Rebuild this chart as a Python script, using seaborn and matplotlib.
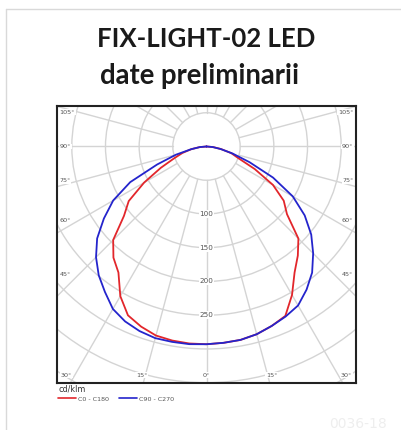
import numpy as np
import pandas as pd
import seaborn as sns
import matplotlib.pyplot as plt
from matplotlib.lines import Line2D
from matplotlib.patches import Circle

# luminous intensity in cd/klm, every 5 deg from nadir (0) to horizontal (90)
gamma = [0, 5, 10, 15, 20, 25, 30, 35, 40, 45, 50, 55, 60, 65, 70, 75, 80, 85, 90]
c0 = [293, 292, 291, 288, 283, 277, 254, 228, 211, 193, 156, 140, 114, 79, 50, 38, 22, 10, 0]
c180 = [293, 293, 292, 290, 284, 276, 256, 228, 215, 196, 160, 141, 107, 75, 51, 37, 23, 10, 0]
c90 = [293, 292, 291, 288, 283, 278, 272, 259, 244, 224, 203, 178, 148, 109, 68, 40, 21, 9, 0]
c270 = [293, 294, 294, 294, 291, 286, 278, 263, 249, 232, 212, 186, 160, 125, 78, 47, 23, 10, 0]

series_names = ["C0 - C180", "C90 - C270"]
series_colors = ["#e2262b", "#2424cc"]

ring_values = [50, 100, 150, 200, 250, 300, 350, 400, 450]
ring_labels = [100, 150, 200, 250]
side_angles = [105, 90, 75, 60, 45]
bottom_angles = [-30, -15, 0, 15, 30]


def half_to_xy(angles, values, side):
    a = np.radians(angles)
    v = np.asarray(values, dtype=float)
    return side * v * np.sin(a), -v * np.cos(a)


rows = []
for name, left, right in [(series_names[0], c180, c0), (series_names[1], c270, c90)]:
    xl, yl = half_to_xy(gamma, left, -1)
    xr, yr = half_to_xy(gamma, right, 1)
    xs = np.concatenate([xl[::-1], xr[1:]])
    ys = np.concatenate([yl[::-1], yr[1:]])
    for x, y in zip(xs, ys):
        rows.append({"x": x, "y": y, "series": name})
df = pd.DataFrame(rows)

sns.set_style("white")
plt.rcParams["font.family"] = ["DejaVu Sans"]

W, H = 401, 430
fig = plt.figure(figsize=(W / 100, H / 100), dpi=100)

# card outline (top and left edges visible)
fig.add_artist(Line2D([6 / W, 1], [1 - 9 / H, 1 - 9 / H], color="#d9d9d9", lw=1.0))
fig.add_artist(Line2D([6 / W, 6 / W], [1 - 9 / H, 0], color="#d9d9d9", lw=1.0))

fig.text(206.5 / W, 1 - 47 / H, "FIX-LIGHT-02 LED", ha="center", va="baseline",
         fontsize=18.5, fontweight="bold", family="Lato", color="#1a1a1a")
fig.text(200 / W, 1 - 84 / H, "date preliminarii", ha="center", va="baseline",
         fontsize=19.8, fontweight="bold", family="Lato", color="#1a1a1a")

ax = fig.add_axes([57 / W, 1 - 382.7 / H, 299 / W, 276.7 / H])
ax.set_xlim(-222, 222)
ax.set_ylim(-350, 60)

# polar grid
grid_c = "#d4d4d4"
for r in ring_values:
    ax.add_patch(Circle((0, 0), r, fill=False, ec=grid_c, lw=1.0, zorder=1))
for a in range(0, 360, 15):
    t = np.radians(a)
    ax.plot([50 * np.sin(t), 600 * np.sin(t)], [-50 * np.cos(t), -600 * np.cos(t)],
            color=grid_c, lw=1.0, zorder=1)

for r in ring_labels:
    ax.text(0, -r, str(r), ha="center", va="center", fontsize=5.2, color="#555555",
            zorder=2, bbox=dict(fc="white", ec="none", pad=0.6))

for a in side_angles:
    y = -190 / np.tan(np.radians(a))
    ax.text(-218, y, f"{a}°", ha="left", va="center", fontsize=4.6, color="#555555",
            zorder=2, bbox=dict(fc="white", ec="none", pad=0.3))
    ax.text(218, y, f"{a}°", ha="right", va="center", fontsize=4.6, color="#555555",
            zorder=2, bbox=dict(fc="white", ec="none", pad=0.3))
for a in bottom_angles:
    x = 360 * np.tan(np.radians(a))
    ax.text(x, -339, f"{abs(a)}°", ha="center", va="center", fontsize=4.6, color="#555555",
            zorder=2, bbox=dict(fc="white", ec="none", pad=0.3))

sns.lineplot(data=df, x="x", y="y", hue="series", palette=series_colors,
             sort=False, estimator=None, legend=False, lw=1.3, ax=ax, zorder=3)

ax.set_xticks([])
ax.set_yticks([])
ax.set_xlabel("")
ax.set_ylabel("")
for s in ax.spines.values():
    s.set_visible(True)
    s.set_color("#222222")
    s.set_linewidth(1.5)

handles = [Line2D([], [], color=c, lw=1.2) for c in series_colors]
leg = fig.legend(handles, series_names, title="cd/klm", loc="upper left",
                 bbox_to_anchor=(58 / W, 1 - 384 / H), ncol=2, frameon=False,
                 fontsize=4.6, title_fontsize=5.8, alignment="left",
                 handlelength=2.8, handletextpad=0.3, columnspacing=1.6,
                 borderpad=0, borderaxespad=0)
for t in leg.get_texts():
    t.set_color("#555555")
leg.get_title().set_color("#333333")

fig.text(358 / W, 1 - 428 / H, "0036-18", ha="center", va="baseline", fontsize=10,
         color="#eeeeee")

fig.savefig("out.png", dpi=100)
